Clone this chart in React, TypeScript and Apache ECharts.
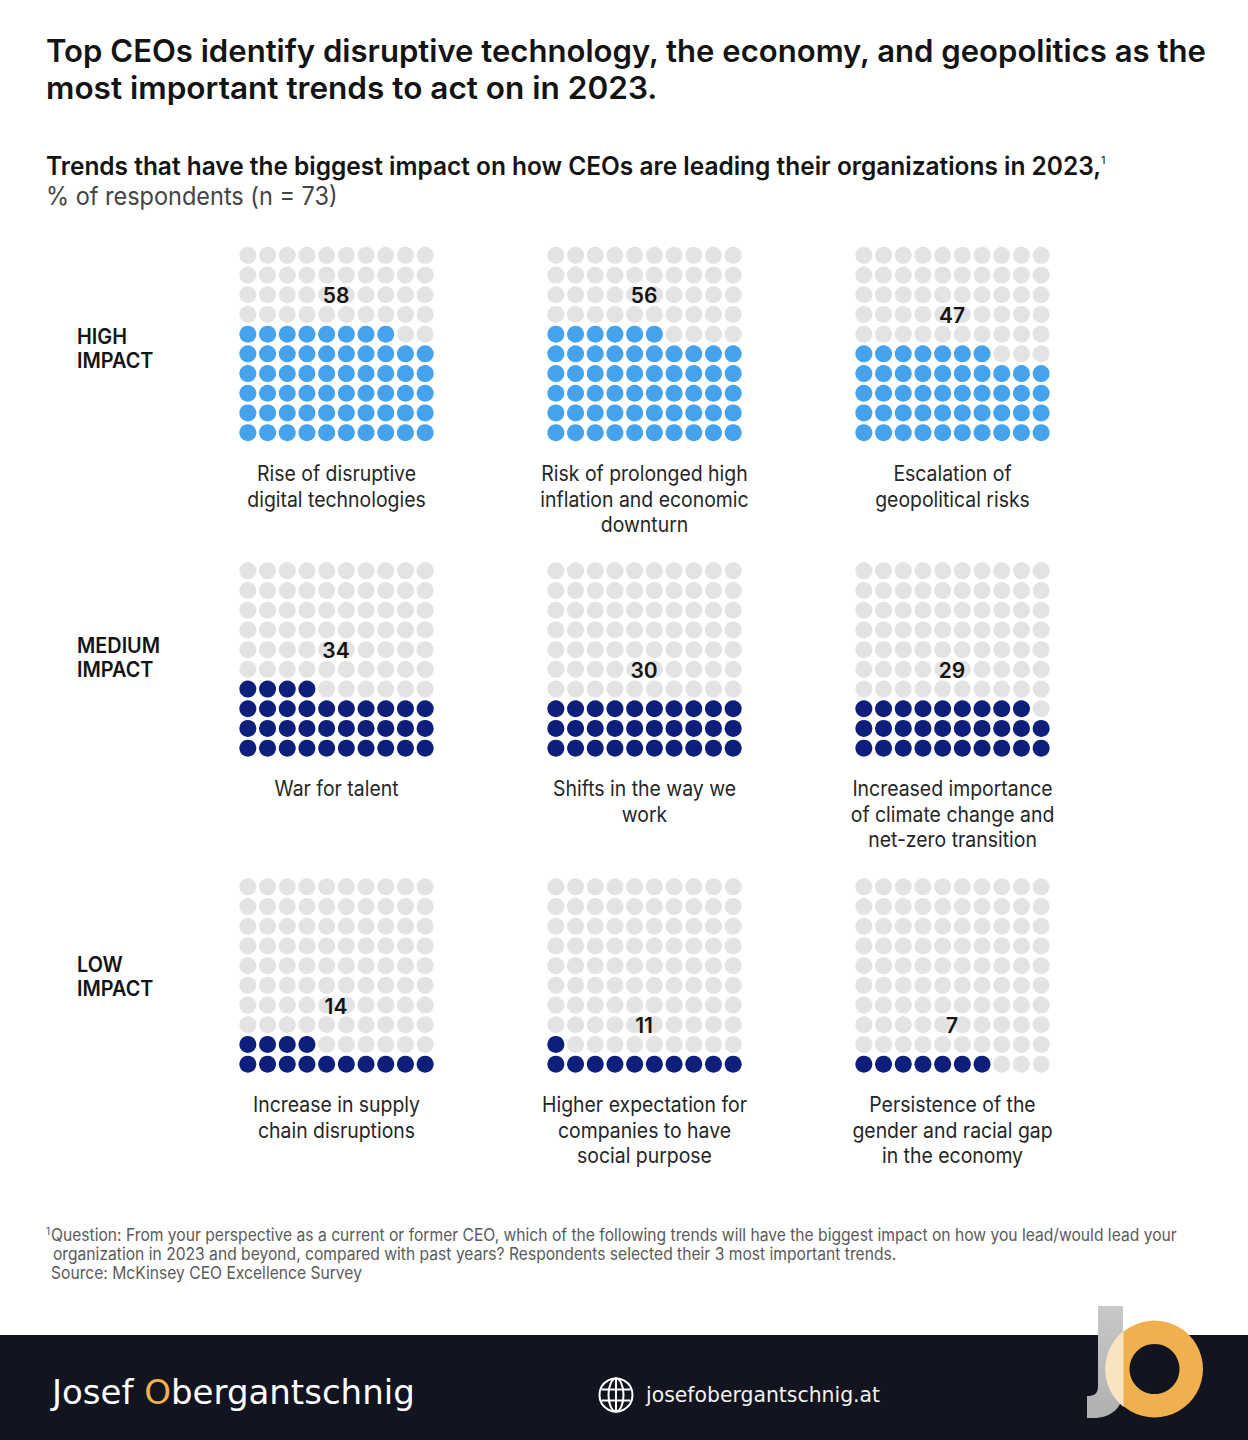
import React, { useEffect, useRef } from "react";
import * as echarts from "echarts";

const trendLabels = [
  ["Rise of disruptive", "digital technologies"],
  ["Risk of prolonged high", "inflation and economic", "downturn"],
  ["Escalation of", "geopolitical risks"],
  ["War for talent"],
  ["Shifts in the way we", "work"],
  ["Increased importance", "of climate change and", "net-zero transition"],
  ["Increase in supply", "chain disruptions"],
  ["Higher expectation for", "companies to have", "social purpose"],
  ["Persistence of the", "gender and racial gap", "in the economy"],
];
const trendValues = [58, 56, 47, 34, 30, 29, 14, 11, 7];
const impactLabels = [["HIGH", "IMPACT"], ["MEDIUM", "IMPACT"], ["LOW", "IMPACT"]];
const titleLines = [
  "Top CEOs identify disruptive technology, the economy, and geopolitics as the",
  "most important trends to act on in 2023.",
];
const subtitle = "Trends that have the biggest impact on how CEOs are leading their organizations in 2023,";
const unitLine = "% of respondents (n = 73)";
const footnotes = [
  "Question: From your perspective as a current or former CEO, which of the following trends will have the biggest impact on how you lead/would lead your",
  "organization in 2023 and beyond, compared with past years? Respondents selected their 3 most important trends.",
  "Source: McKinsey CEO Excellence Survey",
];

const labelRowsFromBottom = [7, 7, 6, 5, 4, 4, 3, 2, 2];
const gridLefts = [238, 546, 854];
const gridTops = [245.5, 561, 877];
const CELL = 197;
const INK = "#141414";
const SANS = "Inter, 'Noto Sans', sans-serif";

echarts.graphic.registerShape(
  "jLetter",
  echarts.graphic.extendPath(
    "M1098 1306 L1123 1306 L1123 1392 C1123 1408 1110 1418 1094 1418 L1087 1418 L1087 1396 C1094 1396 1098 1394 1098 1386 Z",
    {}
  )
);
echarts.graphic.registerShape(
  "crescent",
  echarts.graphic.extendPath("M1123 1331 A48.5 48.5 0 0 0 1123 1407 Z", {})
);

function text(content: string, x: number, y: number, font: string, fill = INK, align = "left", sx = 1) {
  return { type: "text", x, y, scaleX: sx, z: 5, silent: true, style: { text: content, x: 0, y: 0, font, fill, align, verticalAlign: "middle" } };
}

export default function App() {
  const ref = useRef<HTMLDivElement>(null);
  useEffect(() => {
    const chart = echarts.init(ref.current!, undefined, { renderer: "svg" });
    const grid: any[] = [], xAxis: any[] = [], yAxis: any[] = [], series: any[] = [];
    trendValues.forEach((value, i) => {
      const col = i % 3, row = Math.floor(i / 3);
      grid.push({ left: gridLefts[col], top: gridTops[row], width: CELL, height: CELL });
      xAxis.push({ type: "value", gridIndex: i, min: -0.5, max: 9.5, show: false });
      yAxis.push({ type: "value", gridIndex: i, min: -0.5, max: 9.5, show: false });
      const filled: number[][] = [], empty: number[][] = [];
      for (let n = 0; n < 100; n++) (n < value ? filled : empty).push([n % 10, Math.floor(n / 10)]);
      const fill = i < 3 ? "#45A2EC" : "#0D1F7A";
      series.push(
        { type: "scatter", xAxisIndex: i, yAxisIndex: i, symbolSize: 17, silent: true, itemStyle: { color: "#E3E3E3", opacity: 1 }, data: empty },
        { type: "scatter", xAxisIndex: i, yAxisIndex: i, symbolSize: 17, silent: true, itemStyle: { color: fill, opacity: 1 }, data: filled },
        {
          type: "scatter", xAxisIndex: i, yAxisIndex: i, symbolSize: 2, silent: true, z: 4,
          itemStyle: { color: "rgba(0,0,0,0)", opacity: 1 },
          data: [[4.5, labelRowsFromBottom[i]]],
          label: { show: true, position: "inside", offset: [-0.5, 1], formatter: () => String(value), fontFamily: "Inter", fontSize: 21, fontWeight: 600, color: INK, opacity: 1 },
        }
      );
    });

    const graphics: any[] = [];
    graphics.push(text(titleLines[0], 46, 51, `600 31px ${SANS}`, INK, "left", 1.003));
    graphics.push(text(titleLines[1], 46, 88.5, `600 31px ${SANS}`, INK, "left", 1.018));
    graphics.push(text(subtitle, 46, 166, `600 25px ${SANS}`, INK, "left", 0.979));
    graphics.push(text("1", 1101, 160, `400 11px ${SANS}`));
    graphics.push(text(unitLine, 46, 196, `400 25px ${SANS}`, "#444444", "left", 0.94));
    impactLabels.forEach((lines, r) => lines.forEach((l, j) =>
      graphics.push(text(l, 77, [336, 645.5, 964][r] + j * 24, `600 21px ${SANS}`, INK, "left", 0.945))));
    trendLabels.forEach((lines, i) => {
      const cx = gridLefts[i % 3] + CELL / 2;
      const base = [473.5, 788.5, 1104.5][Math.floor(i / 3)];
      lines.forEach((l, j) => graphics.push(text(l, cx, base + j * 25.5, `400 21px ${SANS}`, "#262626", "center", 0.925)));
    });
    graphics.push(text("1", 46, 1231, `400 10px ${SANS}`, "#555555"));
    graphics.push(text(footnotes[0], 51, 1235, `400 17px ${SANS}`, "#5a5a5a", "left", 0.92));
    graphics.push(text(footnotes[1], 53, 1254, `400 17px ${SANS}`, "#5a5a5a", "left", 0.92));
    graphics.push(text(footnotes[2], 51, 1273, `400 17px ${SANS}`, "#5a5a5a", "left", 0.92));

    graphics.push({ type: "rect", z: 1, silent: true, shape: { x: 0, y: 1335, width: 1248, height: 105 }, style: { fill: "#12141F" } });
    graphics.push({
      type: "text", x: 52, y: 1392, z: 5, silent: true,
      style: {
        text: "{a|Josef }{b|O}{a|bergantschnig}", verticalAlign: "middle", align: "left",
        rich: {
          a: { fill: "#FFFFFF", fontFamily: "DejaVu Sans", fontSize: 34 },
          b: { fill: "#EFB04D", fontFamily: "DejaVu Sans", fontSize: 34 },
        },
      },
    });
    graphics.push(text("josefobergantschnig.at", 646, 1395, "400 20.4px 'DejaVu Sans'", "#F2F2F2"));
    const globe = { fill: "none", stroke: "#FFFFFF", lineWidth: 2 };
    graphics.push({ type: "circle", z: 5, silent: true, shape: { cx: 616, cy: 1395, r: 16.5 }, style: globe });
    graphics.push({ type: "ellipse", z: 5, silent: true, shape: { cx: 616, cy: 1395, rx: 7.5, ry: 16.5 }, style: globe });
    [-5.5, 5.5].forEach((d) => graphics.push({ type: "line", z: 5, silent: true, shape: { x1: 601.5, y1: 1395 + d, x2: 630.5, y2: 1395 + d }, style: globe }));
    graphics.push({ type: "line", z: 5, silent: true, shape: { x1: 616, y1: 1378.5, x2: 616, y2: 1411.5 }, style: globe });

    graphics.push({
      type: "jLetter", z: 6, silent: true,
      style: { fill: { type: "linear", x: 0, y: 0, x2: 0, y2: 1, colorStops: [{ offset: 0, color: "#C8C8C8" }, { offset: 1, color: "#B0B0B0" }] } },
    });
    graphics.push({ type: "ring", z: 7, silent: true, shape: { cx: 1154.5, cy: 1369, r: 48.5, r0: 25 }, style: { fill: "#EFB04D" } });
    graphics.push({ type: "crescent", z: 8, silent: true, x: 0.5, style: { fill: "#F8E4BF" } });

    chart.setOption({ animation: false, backgroundColor: "#FFFFFF", grid, xAxis, yAxis, series, graphic: { elements: graphics } });
    return () => chart.dispose();
  }, []);
  return <div ref={ref} style={{ position: "absolute", left: 0, top: 0, width: 1248, height: 1440 }} />;
}
